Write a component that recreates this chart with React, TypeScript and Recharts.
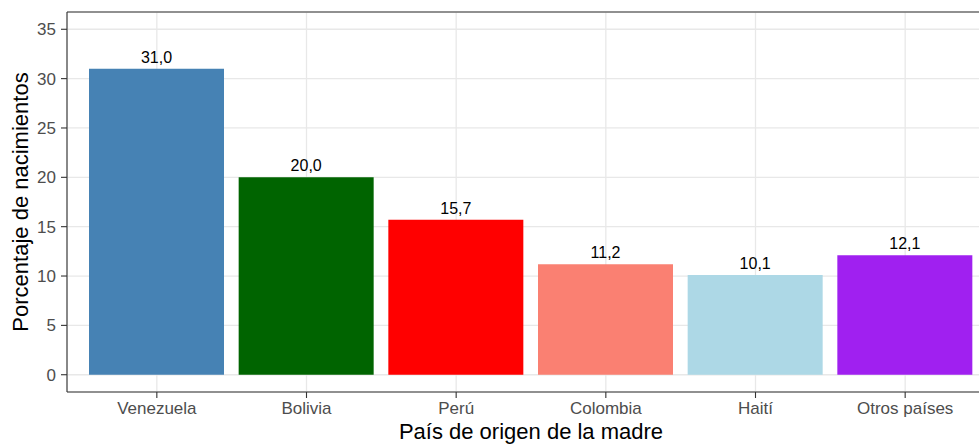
import { BarChart, Bar, XAxis, YAxis, CartesianGrid, Cell, LabelList, ReferenceLine } from 'recharts';

const PAISES = ['Venezuela', 'Bolivia', 'Perú', 'Colombia', 'Haití', 'Otros países'];
const PORCENTAJES = [31.0, 20.0, 15.7, 11.2, 10.1, 12.1];
const COLORES = ['#4682B4', '#006400', '#FF0000', '#FA8072', '#ADD8E6', '#A020F0'];
const Y_TICKS = [0, 5, 10, 15, 20, 25, 30, 35];
const Y_DOMAIN = [-1.75, 36.75];

const data = PAISES.map((pais, i) => ({ pais, valor: PORCENTAJES[i] }));

const FONT = '"Liberation Sans", Arial, Helvetica, sans-serif';

const fmt = (v: any) => Number(v).toFixed(1).replace('.', ',');

const YTitle = (props: any) => {
  const vb = props.viewBox;
  const cx = vb.x + 28;
  const cy = vb.y + vb.height / 2;
  return (
    <text x={cx} y={cy} transform={`rotate(-90, ${cx}, ${cy})`} textAnchor="middle" fontSize={22} fill="#000" fontFamily={FONT}>
      Porcentaje de nacimientos
    </text>
  );
};

const XTitle = (props: any) => {
  const vb = props.viewBox;
  return (
    <text x={vb.x + vb.width / 2} y={vb.y + vb.height - 5} textAnchor="middle" fontSize={22} fill="#000" fontFamily={FONT}>
      País de origen de la madre
    </text>
  );
};

const App = () => {
  return (
    <div style={styles.wrap}>
      <BarChart width={995} height={444} data={data} margin={{ top: 12, right: 0, bottom: 0, left: 0 }}>
        <CartesianGrid stroke="#E8E8E8" strokeWidth={1.3} />
        <XAxis
          dataKey="pais"
          padding={{ left: 15, right: 15 }}
          height={52}
          tickSize={6}
          tickMargin={4}
          stroke="#333333"
          strokeWidth={1.1}
          tick={{ fill: '#4D4D4D', fontSize: 17, fontFamily: FONT }}
          label={{ content: XTitle }}
        />
        <YAxis
          type="number"
          domain={Y_DOMAIN}
          ticks={Y_TICKS}
          width={67}
          tickSize={6}
          tickMargin={5}
          stroke="#333333"
          strokeWidth={1.1}
          tick={{ fill: '#4D4D4D', fontSize: 17, fontFamily: FONT }}
          label={{ content: YTitle }}
        />
        <ReferenceLine y={Y_DOMAIN[1]} stroke="#333333" strokeWidth={1.1} />
        <Bar dataKey="valor" barSize={135} isAnimationActive={false}>
          {data.map((d, i) => (
            <Cell key={d.pais} fill={COLORES[i]} />
          ))}
          <LabelList dataKey="valor" position="top" offset={6} formatter={fmt} fill="#000" fontSize={16} fontFamily={FONT} />
        </Bar>
      </BarChart>
    </div>
  );
};

const styles = {
  wrap: { position: 'absolute' as const, left: 0, top: 0, width: 979, height: 444, overflow: 'hidden', background: '#fff' },
};

export default App;
